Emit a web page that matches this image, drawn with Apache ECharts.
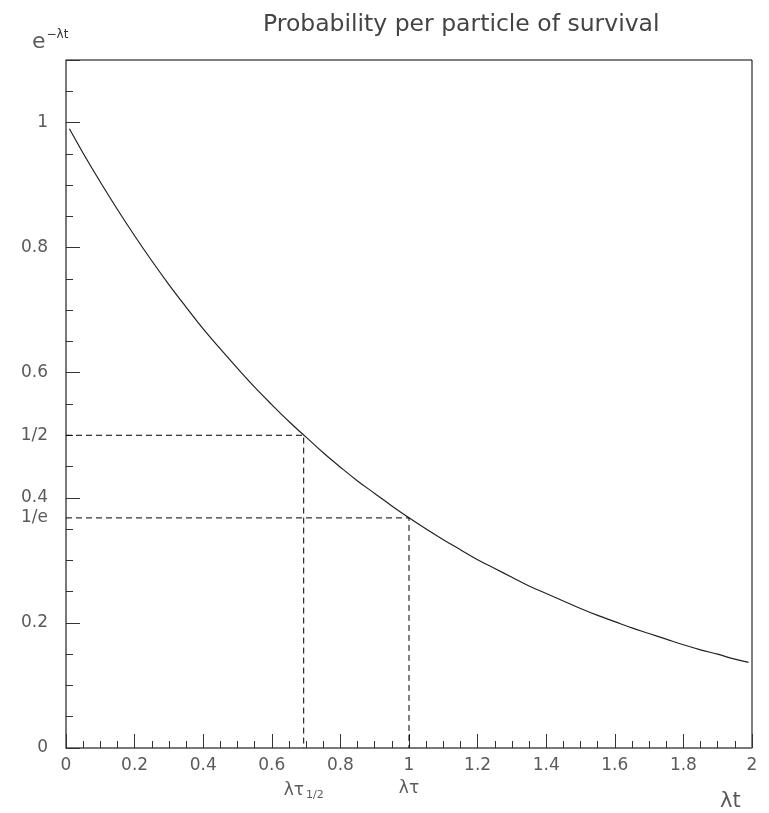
<!DOCTYPE html>
<html>
<head>
<meta charset="utf-8">
<script src="https://cdn.jsdelivr.net/npm/echarts@6/dist/echarts.min.js"></script>
<style>html,body{margin:0;padding:0;background:#fff;}#c{width:769px;height:813px;}</style>
</head>
<body>
<div id="c"></div>
<script>
// Curve e^{-λt}
const curveX = [0.01,0.05,0.1,0.15,0.2,0.25,0.3,0.35,0.4,0.45,0.5,0.55,0.6,0.65,0.7,0.75,0.8,0.85,0.9,0.95,1.0,1.05,1.1,1.15,1.2,1.25,1.3,1.35,1.4,1.45,1.5,1.55,1.6,1.65,1.7,1.75,1.8,1.85,1.9,1.95,1.99];
const curveY = [0.990,0.951,0.905,0.861,0.819,0.779,0.741,0.705,0.670,0.638,0.607,0.577,0.549,0.522,0.497,0.472,0.449,0.427,0.407,0.387,0.368,0.350,0.333,0.317,0.301,0.287,0.273,0.259,0.247,0.235,0.223,0.212,0.202,0.192,0.183,0.174,0.165,0.157,0.150,0.142,0.137];
// Guide lines
const halfLifeX = 0.693;
const halfY = 0.5;
const tauX = 1.0;
const invEY = 0.3679;
const yTickLabels = ['0','0.2','0.4','0.6','0.8','1'];
const xSpecialLabels = ['λτ_{1/2}','λτ'];
const ySpecialLabels = ['1/2','1/e'];
const titleText = 'Probability per particle of survival';

const curveData = curveX.map((x,i)=>[x,curveY[i]]);
const halfData = [[0,halfY],[halfLifeX,halfY],[halfLifeX,0]];
const tauData = [[0,invEY],[tauX,invEY],[tauX,0]];

const font = '"DejaVu Sans", sans-serif';
const labCol = '#5a5a5a';
const axCol = '#777';

const chart = echarts.init(document.getElementById('c'), null, {renderer:'canvas'});
chart.setOption({
  animation:false,
  backgroundColor:'#fff',
  title:{text:titleText,left:258,top:8,textStyle:{fontFamily:font,fontWeight:'normal',fontSize:23.5,color:'#444'}},
  grid:{left:66,right:17,top:60,bottom:65,show:true,borderColor:'#000',borderWidth:1,backgroundColor:'transparent'},
  xAxis:[{
    type:'value',min:0,max:2,interval:0.2,
    axisLine:{show:true,lineStyle:{color:axCol,width:1.5}},
    axisTick:{show:true,inside:true,length:14,lineStyle:{color:'#333'}},
    minorTick:{show:true,splitNumber:4,length:7,lineStyle:{color:'#333'}},
    splitLine:{show:false},
    axisLabel:{margin:9,color:labCol,fontFamily:font,fontSize:17,formatter:v=>String(+v.toFixed(1))}
  },{
    type:'value',min:0,max:2,position:'bottom',
    axisLine:{show:false},axisTick:{show:false},splitLine:{show:false},
    axisLabel:{margin:32,color:labCol,fontFamily:font,fontSize:17,
      customValues:[halfLifeX,tauX],
      formatter:v=> v<0.8 ? '{m|λτ}{s|1/2}' : '{m|λτ}',
      rich:{m:{fontFamily:font,fontSize:17,color:labCol},s:{fontFamily:font,fontSize:11,color:labCol,padding:[10,0,0,2]}}}
  }],
  yAxis:[{
    type:'value',min:0,max:1.1,interval:0.2,
    axisLine:{show:true,lineStyle:{color:axCol,width:1.5}},
    axisTick:{show:true,inside:true,length:14,lineStyle:{color:'#333'}},
    minorTick:{show:true,splitNumber:4,length:7,lineStyle:{color:'#333'}},
    splitLine:{show:false},
    axisLabel:{margin:18,color:labCol,fontFamily:font,fontSize:17,showMaxLabel:false,
      formatter:v=>{const i=Math.round(v/0.2); return (Math.abs(v-i*0.2)<1e-6 && i<yTickLabels.length)?yTickLabels[i]:'';}}
  },{
    type:'value',min:0,max:1.1,position:'left',
    axisLine:{show:false},axisTick:{show:false},splitLine:{show:false},
    axisLabel:{margin:18,color:labCol,fontFamily:font,fontSize:17,
      customValues:[halfY,invEY],
      formatter:v=> v>0.45 ? ySpecialLabels[0] : ySpecialLabels[1]}
  }],
  graphic:[
    {type:'text',left:32,top:29,style:{text:'{e|e}{s|−λt}',rich:{e:{fontFamily:font,fontSize:22,fill:labCol},s:{fontFamily:font,fontSize:12,fill:'#333',padding:[0,0,14,1]}}}},
    {type:'text',left:720,top:791,style:{text:'λt',fontFamily:font,fontSize:21,fill:labCol}}
  ],
  series:[
    {type:'line',data:curveData,smooth:0.4,showSymbol:false,symbol:'none',lineStyle:{color:'#222',width:1.2},z:3},
    {type:'line',data:halfData,showSymbol:false,symbol:'none',lineStyle:{color:'#000',width:1,type:[6,4]}},
    {type:'line',data:tauData,showSymbol:false,symbol:'none',lineStyle:{color:'#000',width:1,type:[6,4]}}
  ]
});
</script>
</body>
</html>
